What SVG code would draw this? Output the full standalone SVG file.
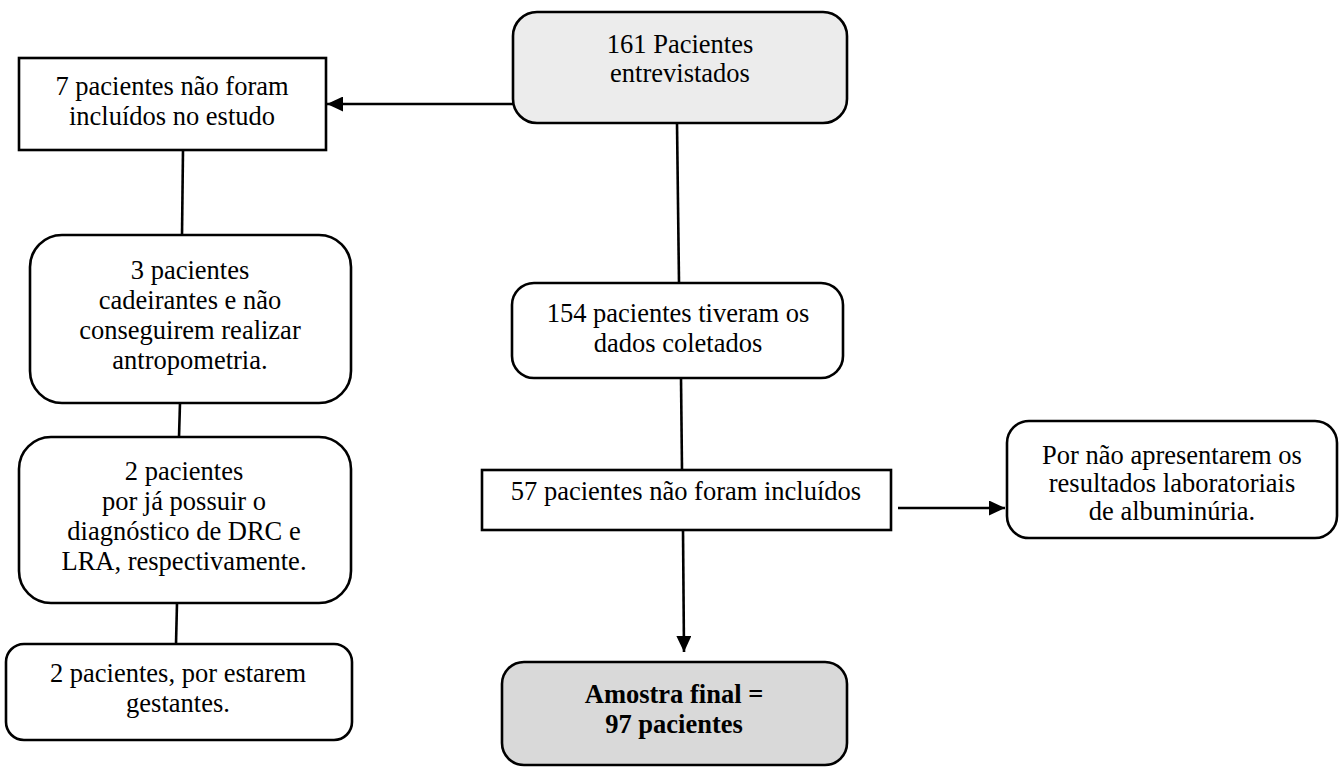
<svg xmlns="http://www.w3.org/2000/svg" width="1344" height="767" viewBox="0 0 1344 767">
<defs>
<style>
.box{fill:#ffffff;stroke:#000000;stroke-width:2.6}
.g1{fill:#ececec}
.g2{fill:#d9d9d9}
.t{font-family:"Liberation Serif","Times New Roman",serif;font-size:26.5px;fill:#000000;text-anchor:middle}
.b{font-weight:bold}
.ln{stroke:#000000;stroke-width:2.6;fill:none}
</style>
<marker id="ah" markerUnits="userSpaceOnUse" markerWidth="16" markerHeight="15" refX="16" refY="7.5" orient="auto">
<path d="M0,0 L16,7.5 L0,15 Z" fill="#000000"/>
</marker>
</defs>
<rect width="1344" height="767" fill="#ffffff"/>
<g id="connectors">
<line class="ln" x1="513" y1="104" x2="327" y2="104" marker-end="url(#ah)"/>
<line class="ln" x1="677" y1="123" x2="679" y2="283"/>
<line class="ln" x1="681" y1="378" x2="682" y2="470"/>
<line class="ln" x1="898" y1="508" x2="1005" y2="508" marker-end="url(#ah)"/>
<line class="ln" x1="683" y1="530" x2="684" y2="652" marker-end="url(#ah)"/>
<line class="ln" x1="183" y1="150" x2="182" y2="235"/>
<line class="ln" x1="180" y1="403" x2="179" y2="437"/>
<line class="ln" x1="177" y1="603" x2="176" y2="644"/>
</g>
<g id="n161">
<rect class="box g1" x="513" y="12" width="334" height="111" rx="24"/>
<text class="t" x="680" y="53">161 Pacientes</text>
<text class="t" x="680" y="82">entrevistados</text>
</g>
<g id="n7">
<rect class="box" x="19" y="58" width="307" height="92"/>
<text class="t" x="172" y="95">7 pacientes não foram</text>
<text class="t" x="172" y="125">incluídos no estudo</text>
</g>
<g id="n3">
<rect class="box" x="30" y="235" width="321" height="168" rx="32"/>
<text class="t" x="190" y="279">3 pacientes</text>
<text class="t" x="190" y="309">cadeirantes e não</text>
<text class="t" x="190" y="339">conseguirem realizar</text>
<text class="t" x="190" y="369">antropometria.</text>
</g>
<g id="n2a">
<rect class="box" x="19" y="437" width="332" height="166" rx="32"/>
<text class="t" x="184" y="480">2 pacientes</text>
<text class="t" x="184" y="510">por já possuir o</text>
<text class="t" x="184" y="540">diagnóstico de DRC e</text>
<text class="t" x="184" y="570">LRA, respectivamente.</text>
</g>
<g id="n2b">
<rect class="box" x="6" y="644" width="346" height="96" rx="18"/>
<text class="t" x="178" y="682">2 pacientes, por estarem</text>
<text class="t" x="178" y="712">gestantes.</text>
</g>
<g id="n154">
<rect class="box" x="512" y="283" width="331" height="95" rx="22"/>
<text class="t" x="678" y="322">154 pacientes tiveram os</text>
<text class="t" x="678" y="352">dados coletados</text>
</g>
<g id="n57">
<rect class="box" x="482" y="470" width="409" height="60"/>
<text class="t" x="686" y="500">57 pacientes não foram incluídos</text>
</g>
<g id="npor">
<rect class="box" x="1007" y="421" width="330" height="117" rx="22"/>
<text class="t" x="1172" y="464">Por não apresentarem os</text>
<text class="t" x="1172" y="492">resultados laboratoriais</text>
<text class="t" x="1172" y="520">de albuminúria.</text>
</g>
<g id="nfinal">
<rect class="box g2" x="502" y="662" width="345" height="103" rx="22"/>
<text class="t b" x="674" y="703">Amostra final =</text>
<text class="t b" x="674" y="733">97 pacientes</text>
</g>
</svg>
